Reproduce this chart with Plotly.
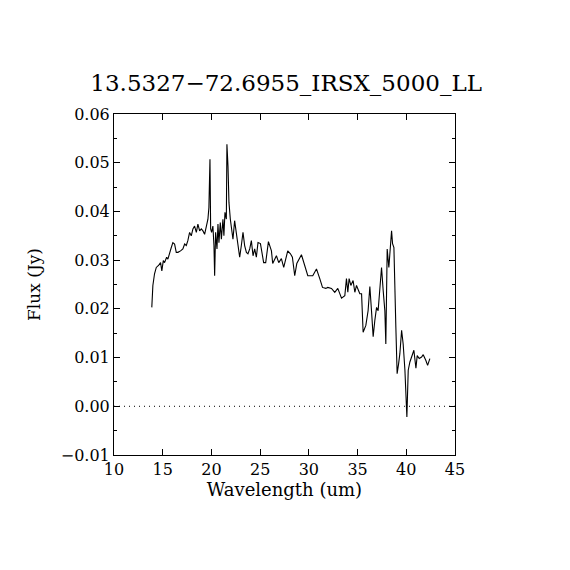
import plotly.graph_objects as go

title_text = "13.5327\u221272.6955_IRSX_5000_LL"

wavelength = [
    13.88, 13.99, 14.16, 14.34, 14.57, 14.78, 14.91, 15.06, 15.19, 15.40,
    15.53, 15.70, 15.88, 16.04, 16.22, 16.39, 16.56, 16.83, 17.07, 17.25,
    17.42, 17.58, 17.76, 17.93, 18.10, 18.27, 18.45, 18.61, 18.79, 18.96,
    19.13, 19.30, 19.48, 19.64, 19.74, 19.85, 19.92, 20.02, 20.15, 20.26,
    20.33, 20.43, 20.57, 20.67, 20.77, 20.91, 21.02, 21.18, 21.28, 21.39,
    21.53, 21.59, 21.70, 21.80, 21.94, 22.08, 22.21, 22.38, 22.56, 22.72,
    22.90, 23.07, 23.24, 23.41, 23.59, 23.75, 23.93, 24.10, 24.27, 24.44,
    24.61, 24.78, 25.03, 25.36, 25.57, 25.85, 26.16, 26.29, 26.67, 26.91,
    27.18, 27.42, 27.83, 28.11, 28.31, 28.55, 28.76, 29.24, 29.58, 29.89,
    30.40, 30.78, 31.12, 31.40, 31.74, 31.94, 32.32, 32.66, 32.97, 33.35,
    33.69, 33.86, 34.00, 34.13, 34.31, 34.54, 34.72, 34.89, 35.23, 35.41,
    35.57, 35.85, 36.08, 36.26, 36.43, 36.60, 36.77, 36.95, 37.11, 37.29,
    37.46, 37.63, 37.80, 37.90, 38.04, 38.21, 38.31, 38.49, 38.59, 38.73,
    38.93, 39.06, 39.21, 39.34, 39.52, 39.68, 39.86, 39.96, 40.06, 40.20,
    40.37, 40.78, 40.99, 41.12, 41.33, 41.57, 41.74, 42.01, 42.19, 42.42,
]

flux = [
    0.0203, 0.0248, 0.0272, 0.0285, 0.0289, 0.0295, 0.0278, 0.0299, 0.0295, 0.0306,
    0.0302, 0.0316, 0.0326, 0.0336, 0.0333, 0.0316, 0.0316, 0.0319, 0.0323, 0.0333,
    0.0330, 0.0340, 0.0357, 0.0350, 0.0364, 0.0370, 0.0357, 0.0374, 0.0360, 0.0364,
    0.0360, 0.0353, 0.0374, 0.0384, 0.0408, 0.0507, 0.0364, 0.0357, 0.0370, 0.0330,
    0.0268, 0.0357, 0.0323, 0.0374, 0.0336, 0.0377, 0.0343, 0.0384, 0.0350, 0.0398,
    0.0384, 0.0538, 0.0493, 0.0418, 0.0384, 0.0357, 0.0343, 0.0381, 0.0357, 0.0333,
    0.0306, 0.0330, 0.0357, 0.0330, 0.0316, 0.0313, 0.0323, 0.0340, 0.0309, 0.0323,
    0.0306, 0.0336, 0.0334, 0.0295, 0.0295, 0.0338, 0.0319, 0.0293, 0.0309, 0.0295,
    0.0303, 0.0285, 0.0319, 0.0313, 0.0306, 0.0268, 0.0293, 0.0311, 0.0289, 0.0268,
    0.0268, 0.0282, 0.0262, 0.0244, 0.0242, 0.0244, 0.0242, 0.0234, 0.0242, 0.0222,
    0.0227, 0.0262, 0.0234, 0.0262, 0.0248, 0.0258, 0.0234, 0.0248, 0.0231, 0.0231,
    0.0152, 0.0166, 0.0196, 0.0246, 0.0196, 0.0143, 0.0176, 0.0203, 0.0196, 0.0244,
    0.0285, 0.0237, 0.0196, 0.0128, 0.0323, 0.0285, 0.0306, 0.0360, 0.0334, 0.0326,
    0.0162, 0.0067, 0.0087, 0.0108, 0.0156, 0.0128, 0.0074, 0.0012, -0.0022, 0.0074,
    0.0091, 0.0115, 0.0078, 0.0104, 0.0098, 0.0101, 0.0106, 0.0094, 0.0084, 0.0098,
]

x_range = [10, 45]
y_range = [-0.01, 0.06]
x_ticks = [10, 15, 20, 25, 30, 35, 40, 45]
y_ticks = [-0.01, 0.0, 0.01, 0.02, 0.03, 0.04, 0.05, 0.06]
y_tick_labels = ["\u22120.01", "0.00", "0.01", "0.02", "0.03", "0.04", "0.05", "0.06"]

font_family = "DejaVu Serif"

fig = go.Figure()

# dotted zero line
fig.add_trace(go.Scatter(
    x=x_range, y=[0, 0], mode="lines",
    line=dict(color="black", width=1, dash="1px,4px"),
    hoverinfo="skip", showlegend=False,
))

fig.add_trace(go.Scatter(
    x=wavelength, y=flux, mode="lines",
    line=dict(color="black", width=1.1),
    showlegend=False,
))

fig.update_layout(
    width=570, height=570,
    paper_bgcolor="white", plot_bgcolor="white",
    margin=dict(l=106, r=123, t=106, b=123),
    title=dict(text=title_text, x=0.488, xanchor="center", y=0.868, yanchor="middle",
               font=dict(family=font_family, size=23, color="black")),
    font=dict(family=font_family, color="black"),
)

fig.update_xaxes(
    range=x_range, tickvals=x_ticks, ticktext=[str(v) for v in x_ticks],
    ticks="inside", ticklen=6, tickcolor="black", tickwidth=1,
    showline=True, linecolor="black", linewidth=1, mirror="allticks",
    showgrid=False, zeroline=False,
    tickfont=dict(family=font_family, size=16, color="black"),
    title=dict(text="Wavelength (um)", font=dict(family=font_family, size=18, color="black"),
               standoff=3),
)

fig.update_yaxes(
    range=y_range, tickvals=y_ticks, ticktext=y_tick_labels,
    ticks="inside", ticklen=6, tickcolor="black", tickwidth=1,
    showline=True, linecolor="black", linewidth=1, mirror="allticks",
    showgrid=False, zeroline=False,
    minor=dict(dtick=0.005, ticks="inside", ticklen=3, tickcolor="black", showgrid=False),
    tickfont=dict(family=font_family, size=16, color="black"),
    title=dict(text="Flux (Jy)", font=dict(family=font_family, size=17, color="black"),
               standoff=15),
)

fig.write_html("out.html")
